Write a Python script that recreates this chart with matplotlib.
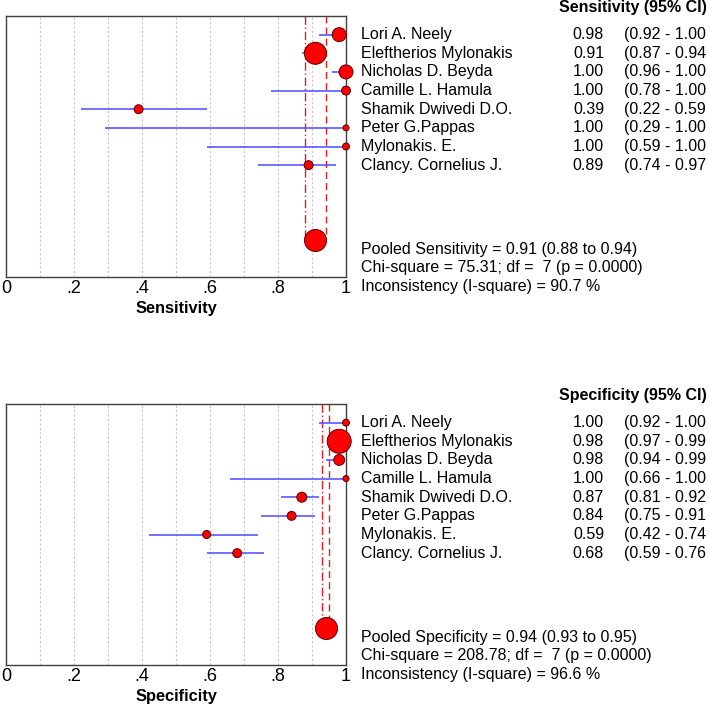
import matplotlib
matplotlib.use("Agg")
import matplotlib.pyplot as plt
from matplotlib.transforms import blended_transform_factory
import numpy as np

plt.rcParams['font.family'] = ['Liberation Sans', 'DejaVu Sans']

studies = ["Lori A. Neely", "Eleftherios Mylonakis", "Nicholas D. Beyda",
           "Camille L. Hamula", "Shamik Dwivedi D.O.", "Peter G.Pappas",
           "Mylonakis. E.", "Clancy. Cornelius J."]

sens = [0.98, 0.91, 1.00, 1.00, 0.39, 1.00, 1.00, 0.89]
sens_lo = [0.92, 0.87, 0.96, 0.78, 0.22, 0.29, 0.59, 0.74]
sens_hi = [1.00, 0.94, 1.00, 1.00, 0.59, 1.00, 1.00, 0.97]
sens_weight = [49, 121, 49, 20, 20, 9, 12, 20]
sens_pooled = [0.91, 0.88, 0.94]
sens_stats = ["Pooled Sensitivity = 0.91 (0.88 to 0.94)",
              "Chi-square = 75.31; df =  7 (p = 0.0000)",
              "Inconsistency (I-square) = 90.7 %"]

spec = [1.00, 0.98, 0.98, 1.00, 0.87, 0.84, 0.59, 0.68]
spec_lo = [0.92, 0.97, 0.94, 0.66, 0.81, 0.75, 0.42, 0.59]
spec_hi = [1.00, 0.99, 0.99, 1.00, 0.92, 0.91, 0.74, 0.76]
spec_weight = [12, 144, 30, 9, 25, 20, 16, 20]
spec_pooled = [0.94, 0.93, 0.95]
spec_stats = ["Pooled Specificity = 0.94 (0.93 to 0.95)",
              "Chi-square = 208.78; df =  7 (p = 0.0000)",
              "Inconsistency (I-square) = 96.6 %"]

xticks = [0, 0.2, 0.4, 0.6, 0.8, 1.0]
xticklabels = ["0", ".2", ".4", ".6", ".8", "1"]

W, H = 709, 706
fig = plt.figure(figsize=(W / 100, H / 100), dpi=100)
FS = 11.5


def panel(top_px, est, lo, hi, weight, pooled, stats, label):
    ax = fig.add_axes([6 / W, (H - top_px - 261) / H, 340 / W, 261 / H])
    ax.set_xlim(0, 1)
    ax.set_ylim(14, 0)
    for g in np.arange(0.1, 1.0, 0.1):
        ax.axvline(g, color='#c8c8c8', lw=0.8, ls=(0, (2, 2)), zorder=0)
    y = np.arange(1, len(est) + 1)
    ax.hlines(y, lo, hi, color='#4a4aff', lw=1.1, zorder=2)
    r = np.sqrt(np.array(weight, dtype=float))
    ax.scatter(est, y, s=(2 * r * 0.72) ** 2, color='red', edgecolor='#5a0000',
               linewidth=0.7, zorder=3, clip_on=False)
    ypool = 12
    ax.vlines(pooled[1], 0, ypool, color='#e02020', lw=1.0, ls=(0, (6, 2, 1, 2)), zorder=1)
    ax.vlines(pooled[2], 0, ypool, color='#e02020', lw=1.0, ls=(0, (5, 3)), zorder=1)
    ax.scatter([pooled[0]], [ypool], s=(2 * 11 * 0.72) ** 2, color='red',
               edgecolor='#5a0000', linewidth=0.7, zorder=3)
    ax.set_yticks([])
    ax.set_xticks(xticks)
    ax.set_xticklabels(xticklabels, fontsize=13)
    ax.tick_params(axis='x', length=0, pad=2)
    ax.set_xlabel(label, fontsize=11.8, fontweight='bold', labelpad=3)
    for s in ax.spines.values():
        s.set_color('#404040')
        s.set_linewidth(1.0)

    tr = blended_transform_factory(fig.transFigure, ax.transData)
    ax.text(707 / W, -0.45, f"{label} (95% CI)", transform=tr, ha='right',
            va='center', fontsize=FS, fontweight='bold', clip_on=False)
    for i, name in enumerate(studies):
        yy = i + 1
        ax.text(361 / W, yy, name, transform=tr, ha='left', va='center', fontsize=FS, clip_on=False)
        ax.text(604 / W, yy, f"{est[i]:.2f}", transform=tr, ha='right', va='center', fontsize=FS, clip_on=False)
        # the closing bracket falls outside the picture in the reference
        ax.text(624 / W, yy, f"({lo[i]:.2f} - {hi[i]:.2f}", transform=tr, ha='left', va='center',
                fontsize=FS, clip_on=False)
    for j, line in enumerate(stats):
        ax.text(361 / W, 12.5 + j * 1.0, line, transform=tr, ha='left', va='center',
                fontsize=FS, clip_on=False)
    return ax


panel(16, sens, sens_lo, sens_hi, sens_weight, sens_pooled, sens_stats, "Sensitivity")
panel(404, spec, spec_lo, spec_hi, spec_weight, spec_pooled, spec_stats, "Specificity")

fig.savefig("out.png", dpi=100, facecolor='white')
